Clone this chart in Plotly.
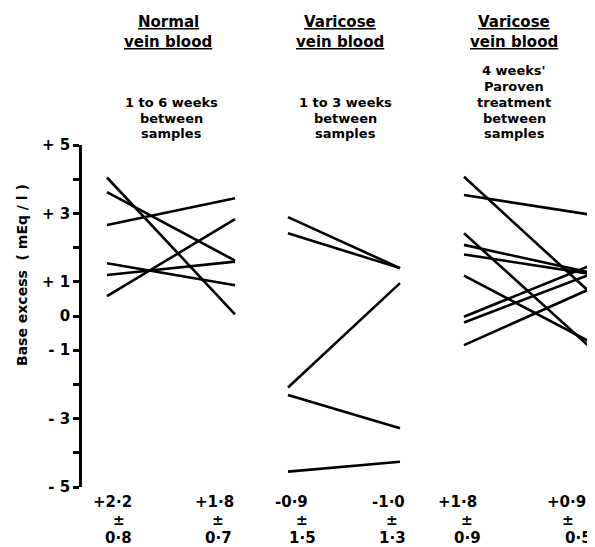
import plotly.graph_objects as go

# ---- data (mEq/l) ----
panels = ["Normal vein blood", "Varicose vein blood", "Varicose vein blood (Paroven)"]
normal_first = [4.05, 3.62, 2.66, 1.54, 1.20, 0.58]
normal_second = [0.05, 1.62, 3.44, 0.90, 1.59, 2.83]
varicose_first = [2.89, 2.42, -2.09, -2.31, -4.55]
varicose_second = [1.40, 1.40, 0.96, -3.28, -4.26]
paroven_first = [4.07, 3.54, 2.42, 2.08, 1.80, 1.18, -0.02, -0.19, -0.85]
paroven_second = [0.61, 2.95, -0.99, 1.25, 1.22, -0.80, 1.51, 1.25, 0.83]
mean_labels = ["+2·2", "+1·8", "-0·9", "-1·0", "+1·8", "+0·9"]
sd_labels = ["0·8", "0·7", "1·5", "1·3", "0·9", "0·5"]
ytick_vals = [-5, -4, -3, -2, -1, 0, 1, 2, 3, 4, 5]
ytick_text = ["- 5", "", "- 3", "", "- 1", "0", "+ 1", "", "+ 3", "", "+ 5"]

# ---- layout constants (target page pixels; page body has an 8px margin) ----
OFF = 8
W, H = 595 - OFF, 547 - OFF
TOP, BOT = 145, 487          # page rows of +5 and -5
LEFT, RIGHT = 82, 595        # page columns of the y axis and the right edge
col_x = [(107, 235), (288, 400), (464, 593)]
row1_x = [112, 214, 291, 388, 457, 566]
row2_x = [119, 218, 302, 392, 467, 568]
row3_x = [118, 218, 302, 392, 467, 578]

ML, MT = LEFT - OFF, TOP - OFF
MR = (W + OFF) - RIGHT
MB = (H + OFF) - BOT
PW, PH = RIGHT - LEFT, BOT - TOP

def px(xpix):
    return (xpix - LEFT) / PW

def py(ypix):
    return (BOT - ypix) / PH

FONT = "DejaVu Sans"
fig = go.Figure()

series = [(normal_first, normal_second), (varicose_first, varicose_second),
          (paroven_first, paroven_second)]
for (xa, xb), (first, second) in zip(col_x, series):
    for a, b in zip(first, second):
        fig.add_trace(go.Scatter(x=[xa, xb], y=[a, b], mode="lines",
                                 line=dict(color="black", width=2.6),
                                 showlegend=False, hoverinfo="skip"))

ann = []
def txt(xpix, ypix, s, size=15, angle=0):
    ann.append(dict(x=px(xpix), y=py(ypix), xref="paper", yref="paper", text=s,
                    showarrow=False, textangle=angle,
                    font=dict(family=FONT, size=size, color="black", weight="bold"),
                    xanchor="center", yanchor="middle"))

# headers
hdr_x = [168, 340, 514]
txt(hdr_x[0], 22, "<u>Normal</u>")
txt(hdr_x[0], 42, "<u>vein blood</u>")
txt(hdr_x[1], 22, "<u>Varicose</u>")
txt(hdr_x[1], 42, "<u>vein blood</u>")
txt(hdr_x[2], 22, "<u>Varicose</u>")
txt(hdr_x[2], 42, "<u>vein blood</u>")
for i, s in enumerate(["1 to 6 weeks", "between", "samples"]):
    txt(171, 102 + 16 * i, s, size=13)
for i, s in enumerate(["1 to 3 weeks", "between", "samples"]):
    txt(345, 102 + 16 * i, s, size=13)
for i, s in enumerate(["4 weeks'", "Paroven", "treatment", "between", "samples"]):
    txt(514, 70 + 16 * i, s, size=13)

# bottom mean ± sd labels
for i in range(6):
    txt(row1_x[i], 502, mean_labels[i])
    txt(row2_x[i], 520, "±", size=14)
    txt(row3_x[i], 538, sd_labels[i])

# y title
txt(22, 275, "Base excess  ( mEq / l )", size=14, angle=-90)

fig.update_layout(
    width=W, height=H, margin=dict(l=ML, r=MR, t=MT, b=MB, pad=0),
    paper_bgcolor="white", plot_bgcolor="white", annotations=ann,
    xaxis=dict(range=[LEFT, RIGHT], visible=False, fixedrange=True),
    yaxis=dict(range=[-5, 5], tickvals=ytick_vals, ticktext=ytick_text,
               showline=True, linecolor="black", linewidth=2.5, ticks="outside",
               ticklen=6, tickwidth=2.5, tickcolor="black", showgrid=False,
               zeroline=False,
               tickfont=dict(family=FONT, size=15, color="black", weight="bold"),
               fixedrange=True),
)
fig.write_html("out.html")
